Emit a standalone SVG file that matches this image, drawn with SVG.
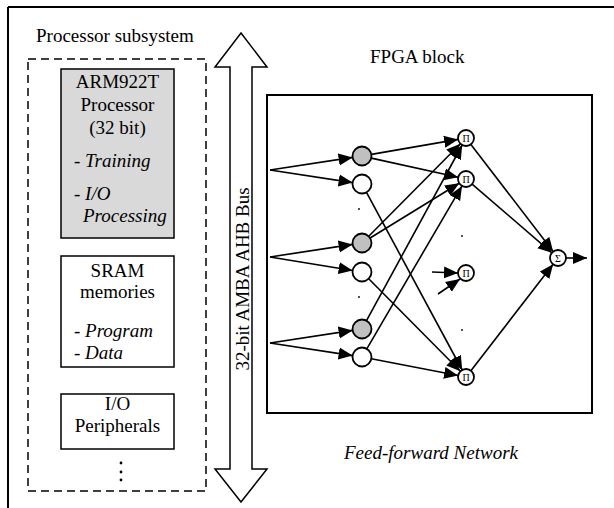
<svg xmlns="http://www.w3.org/2000/svg" width="614" height="508" viewBox="0 0 614 508">
<style>
text{font-family:"Liberation Serif","Times New Roman",serif;font-size:19px;fill:#000}
.it{font-style:italic}
.box{fill:#fff;stroke:#000;stroke-width:1.5}
.n{stroke:#000;stroke-width:1.8}
.g{fill:#c0c0c0}
.w{fill:#fff}
.e{stroke:#000;stroke-width:1.6;fill:none;marker-end:url(#ah)}
.sym{font-size:10px}
</style>
<defs>
<marker id="ah" markerUnits="userSpaceOnUse" markerWidth="16" markerHeight="14" refX="14" refY="6.5" orient="auto">
<path d="M0,0.5 L14,6.5 L0,12.5 Z" fill="#000"/>
</marker>
</defs>
<rect width="614" height="508" fill="#fff"/>
<g id="frame">
<path d="M8,7 H614 M8,7 V508" stroke="#000" stroke-width="2" fill="none"/>
</g>
<g id="processor-subsystem">
<text x="36" y="42">Processor subsystem</text>
<rect x="28" y="59" width="178" height="432" fill="none" stroke="#000" stroke-width="1.5" stroke-dasharray="8,5"/>
</g>
<g id="arm">
<rect x="61" y="69" width="113" height="169" fill="#d9d9d9" stroke="#000" stroke-width="1.5"/>
<text x="117.5" y="88" text-anchor="middle">ARM922T</text>
<text x="117.5" y="111" text-anchor="middle">Processor</text>
<text x="117.5" y="134" text-anchor="middle">(32 bit)</text>
<text x="74" y="167">- <tspan class="it">Training</tspan></text>
<text x="74" y="200">- <tspan class="it">I/O</tspan></text>
<text x="83" y="222" class="it">Processing</text>
</g>
<g id="sram">
<rect x="61" y="256" width="113" height="111" class="box"/>
<text x="117.5" y="277" text-anchor="middle">SRAM</text>
<text x="117.5" y="298" text-anchor="middle">memories</text>
<text x="74" y="337">- <tspan class="it">Program</tspan></text>
<text x="74" y="359">- <tspan class="it">Data</tspan></text>
</g>
<g id="io">
<rect x="61" y="394" width="113" height="55" class="box"/>
<text x="117.5" y="410" text-anchor="middle">I/O</text>
<text x="117.5" y="432" text-anchor="middle">Peripherals</text>
</g>
<g id="more-dots">
<circle cx="121" cy="463" r="1.4"/>
<circle cx="121" cy="472" r="1.4"/>
<circle cx="121" cy="480" r="1.4"/>
</g>
<g id="bus">
<polygon points="241,33 267,67 252,67 252,469 267,469 241,502 215,469 230,469 230,67 215,67" fill="#fff" stroke="#000" stroke-width="1.5"/>
<text transform="translate(249,279) rotate(-90)" text-anchor="middle">32-bit AMBA AHB Bus</text>
</g>
<g id="fpga">
<text x="370" y="63">FPGA block</text>
<rect x="267" y="95" width="325" height="318" fill="none" stroke="#000" stroke-width="2"/>
<text x="431" y="459" text-anchor="middle" class="it">Feed-forward Network</text>
</g>
<g id="connectors">
<path class="e" d="M270,170 L352.6,157.4"/>
<path class="e" d="M270,170 L352.6,182.6"/>
<path class="e" d="M270,257 L352.6,244.4"/>
<path class="e" d="M270,257 L352.6,270.5"/>
<path class="e" d="M270,343 L352.6,330.4"/>
<path class="e" d="M270,343 L352.6,355.6"/>
<path class="e" d="M371.4,154.4 L458.1,139.4"/>
<path class="e" d="M371.3,158.1 L458.2,177.3"/>
<path class="e" d="M368.7,236.3 L460.4,143.7"/>
<path class="e" d="M370.1,238 L459.2,183.2"/>
<path class="e" d="M366.5,320.7 L462.2,145"/>
<path class="e" d="M366.8,348.8 L462,185.9"/>
<path class="e" d="M366.5,192.4 L462.2,370"/>
<path class="e" d="M368.7,278.7 L460.4,371.3"/>
<path class="e" d="M371.3,358.8 L458.1,375.5"/>
<path class="e" d="M432,272 L458,273"/>
<path class="e" d="M438,294 L460,279"/>
<path class="e" d="M470.9,144.4 L553.1,251.6"/>
<path class="e" d="M472.1,184.2 L551.9,252.8"/>
<path class="e" d="M470.9,370.7 L553.1,264.3"/>
<path class="e" d="M566,258 L587,258"/>
</g>
<g id="layer1">
<circle cx="362" cy="156" r="9.5" class="n g"/>
<circle cx="362" cy="184" r="9.5" class="n w"/>
<circle cx="362" cy="243" r="9.5" class="n g"/>
<circle cx="362" cy="272" r="9.5" class="n w"/>
<circle cx="362" cy="329" r="9.5" class="n g"/>
<circle cx="362" cy="357" r="9.5" class="n w"/>
<circle cx="359" cy="209" r="0.9"/>
<circle cx="359" cy="297" r="0.9"/>
</g>
<g id="pi1"><circle cx="466" cy="138" r="8" class="n w"/><text x="466" y="141.5" text-anchor="middle" class="sym">Π</text></g>
<g id="pi2"><circle cx="466" cy="179" r="8" class="n w"/><text x="466" y="182.5" text-anchor="middle" class="sym">Π</text></g>
<g id="pi3"><circle cx="466" cy="273" r="8" class="n w"/><text x="466" y="276.5" text-anchor="middle" class="sym">Π</text></g>
<g id="pi4"><circle cx="466" cy="377" r="8" class="n w"/><text x="466" y="380.5" text-anchor="middle" class="sym">Π</text></g>
<g id="sigma"><circle cx="558" cy="258" r="8" class="n w"/><text x="558" y="261.5" text-anchor="middle" class="sym">Σ</text></g>
<g id="layer2-dots">
<circle cx="462" cy="236" r="0.9"/>
<circle cx="462" cy="330" r="0.9"/>
</g>
</svg>
